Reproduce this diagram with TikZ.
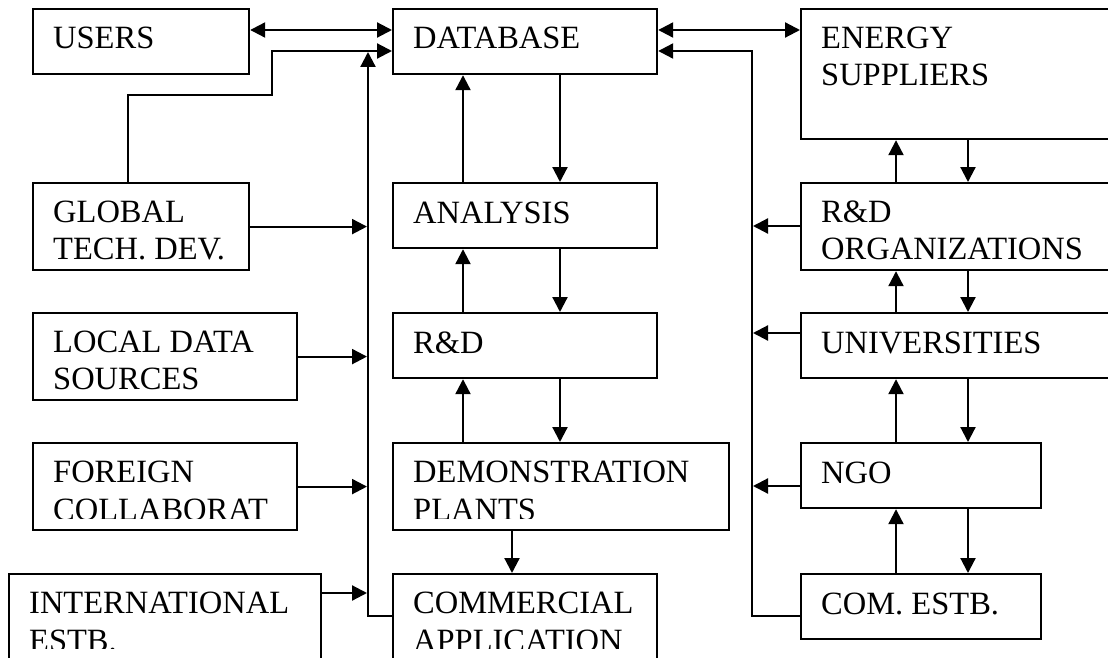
\documentclass[tikz,border=0pt]{standalone}
\usepackage{fontspec}
\setmainfont{Liberation Serif}
\usetikzlibrary{arrows.meta,calc}
\begin{document}
\begin{tikzpicture}[x=1pt,y=-1pt,
  box/.style={draw,line width=2.2pt,rectangle,inner sep=0pt,anchor=north west},
  txt/.style={inner sep=0pt,anchor=base west,font=\fontsize{32.5}{37}\selectfont},
  con/.style={line width=2.2pt},
  arr/.style={con,-{Triangle[length=15pt,width=15pt]}},
  dbl/.style={con,{Triangle[length=15pt,width=15pt]}-{Triangle[length=15pt,width=15pt]}}]
\useasboundingbox (0,0) rectangle (1108,658);
\fill[white] (0,0) rectangle (1108,658);
\clip (0,0) rectangle (1108,658);
% boxes
\node[box,minimum width=216pt,minimum height=65pt] (users) at (32,8) {};
\node[box,minimum width=264pt,minimum height=65pt] (database) at (392,8) {};
\node[box,minimum width=330pt,minimum height=130pt] (energy) at (800,8) {};
\node[box,minimum width=216pt,minimum height=87pt] (gtd) at (32,182) {};
\node[box,minimum width=264pt,minimum height=87pt] (local) at (32,312) {};
\node[box,minimum width=264pt,minimum height=87pt] (foreign) at (32,442) {};
\node[box,minimum width=312pt,minimum height=100pt] (intl) at (8,573) {};
\node[box,minimum width=264pt,minimum height=65pt] (analysis) at (392,182) {};
\node[box,minimum width=264pt,minimum height=65pt] (rd) at (392,312) {};
\node[box,minimum width=336pt,minimum height=87pt] (demo) at (392,442) {};
\node[box,minimum width=264pt,minimum height=100pt] (comm) at (392,573) {};
\node[box,minimum width=330pt,minimum height=87pt] (rdorg) at (800,182) {};
\node[box,minimum width=330pt,minimum height=65pt] (univ) at (800,312) {};
\node[box,minimum width=240pt,minimum height=65pt] (ngo) at (800,442) {};
\node[box,minimum width=240pt,minimum height=65pt] (comest) at (800,573) {};
% texts
\node[txt] (usersT) at ($(users.north west)+(21,41)$) {USERS};
\node[txt] (databaseT) at ($(database.north west)+(21,41)$) {DATABASE};
\node[txt] (energyT1) at ($(energy.north west)+(21,41)$) {ENERGY};
\node[txt] (energyT2) at ($(energy.north west)+(21,78)$) {SUPPLIERS};
\node[txt] (gtdT1) at ($(gtd.north west)+(21,40)$) {GLOBAL};
\node[txt] (gtdT2) at ($(gtd.north west)+(21,77)$) {TECH. DEV.};
\node[txt] (localT1) at ($(local.north west)+(21,40)$) {LOCAL DATA};
\node[txt] (localT2) at ($(local.north west)+(21,77)$) {SOURCES};
\node[txt] (foreignT1) at ($(foreign.north west)+(21,40)$) {FOREIGN};
\node[txt] (intlT1) at ($(intl.north west)+(21,40)$) {INTERNATIONAL};
\node[txt] (analysisT) at ($(analysis.north west)+(21,41)$) {ANALYSIS};
\node[txt] (rdT) at ($(rd.north west)+(21,41)$) {R\&D};
\node[txt] (demoT1) at ($(demo.north west)+(21,40)$) {DEMONSTRATION};
\node[txt] (commT1) at ($(comm.north west)+(21,40)$) {COMMERCIAL};
\node[txt] (rdorgT1) at ($(rdorg.north west)+(21,40)$) {R\&D};
\node[txt] (rdorgT2) at ($(rdorg.north west)+(21,77)$) {ORGANIZATIONS};
\node[txt] (univT) at ($(univ.north west)+(21,41)$) {UNIVERSITIES};
\node[txt] (ngoT) at ($(ngo.north west)+(21,41)$) {NGO};
\node[txt] (comestT) at ($(comest.north west)+(21,41)$) {COM. ESTB.};
\begin{scope}
  \clip (0,0) rectangle (1108,518.5);
  \node[txt] (foreignT2) at ($(foreign.north west)+(21,78)$) {COLLABORAT};
  \node[txt] (demoT2) at ($(demo.north west)+(21,78)$) {PLANTS};
\end{scope}
\begin{scope}
  \clip (0,0) rectangle (1108,648.5);
  \node[txt] (intlT2) at ($(intl.north west)+(21,78)$) {ESTB.};
  \node[txt] (commT2) at ($(comm.north west)+(21,78)$) {APPLICATION};
\end{scope}
% top double arrows
\draw[dbl] ([yshift=-22pt]users.north east) -- ([yshift=-22pt]database.north west);
\draw[dbl] ([yshift=-22pt]database.north east) -- ([yshift=-22pt]energy.north west);
% global tech dev to database
\coordinate (gbend) at (272,95);
\draw[arr] ([xshift=96pt]gtd.north west) |- (gbend) |- ([yshift=-43pt]database.north west);
% left bus
\coordinate (lbusTop) at (368,52);
\coordinate (lbus) at (367,0);
\draw[arr] ([yshift=-43pt]comm.north west) -| (lbusTop);
\draw[arr] (gtd.east) -- (gtd.east -| lbus);
\draw[arr] (local.east) -- (local.east -| lbus);
\draw[arr] (foreign.east) -- (foreign.east -| lbus);
\draw[arr] ([yshift=-20pt]intl.north east) -- ([yshift=-20pt]intl.north east -| lbus);
% right bus
\coordinate (rbusTop) at (752,51);
\coordinate (rbus) at (753,0);
\draw[arr] ([yshift=-43pt]comest.north west) -| (rbusTop) -- ([yshift=-43pt]database.north east);
\draw[arr] ([yshift=-44pt]rdorg.north west) -- ([yshift=-44pt]rdorg.north west -| rbus);
\draw[arr] ([yshift=-21pt]univ.north west) -- ([yshift=-21pt]univ.north west -| rbus);
\draw[arr] ([yshift=-44pt]ngo.north west) -- ([yshift=-44pt]ngo.north west -| rbus);
% middle column
\draw[arr] ([xshift=168pt]database.south west) -- ([xshift=168pt]analysis.north west);
\draw[arr] ([xshift=71pt]analysis.north west) -- ([xshift=71pt]database.south west);
\draw[arr] ([xshift=168pt]analysis.south west) -- ([xshift=168pt]rd.north west);
\draw[arr] ([xshift=71pt]rd.north west) -- ([xshift=71pt]analysis.south west);
\draw[arr] ([xshift=168pt]rd.south west) -- ([xshift=168pt]demo.north west);
\draw[arr] ([xshift=71pt]demo.north west) -- ([xshift=71pt]rd.south west);
\draw[arr] ([xshift=120pt]demo.south west) -- ([xshift=120pt]comm.north west);
% right column
\draw[arr] ([xshift=168pt]energy.south west) -- ([xshift=168pt]rdorg.north west);
\draw[arr] ([xshift=96pt]rdorg.north west) -- ([xshift=96pt]energy.south west);
\draw[arr] ([xshift=168pt]rdorg.south west) -- ([xshift=168pt]univ.north west);
\draw[arr] ([xshift=96pt]univ.north west) -- ([xshift=96pt]rdorg.south west);
\draw[arr] ([xshift=168pt]univ.south west) -- ([xshift=168pt]ngo.north west);
\draw[arr] ([xshift=96pt]ngo.north west) -- ([xshift=96pt]univ.south west);
\draw[arr] ([xshift=168pt]ngo.south west) -- ([xshift=168pt]comest.north west);
\draw[arr] ([xshift=96pt]comest.north west) -- ([xshift=96pt]ngo.south west);
\end{tikzpicture}
\end{document}
